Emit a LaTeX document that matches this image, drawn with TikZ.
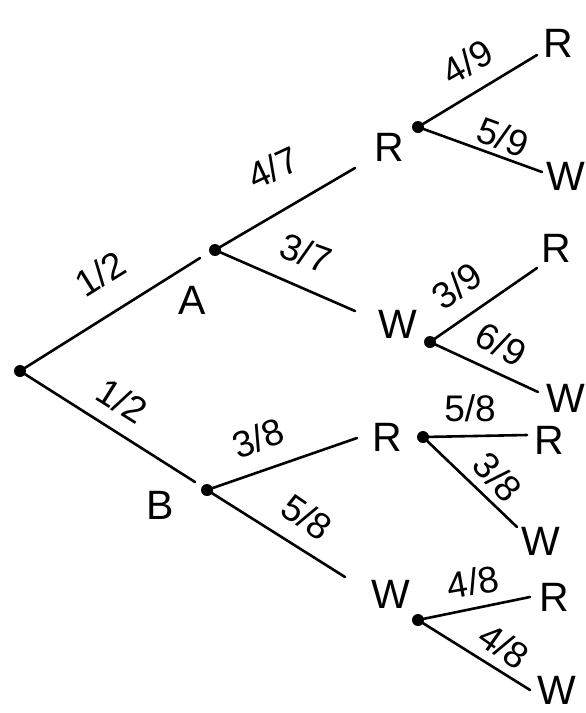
\documentclass[tikz,border=0pt]{standalone}
\usepackage{fontspec}
\setmainfont{Liberation Sans}
\begin{document}
\begin{tikzpicture}[x=1pt,y=-1pt,
  branch/.style={line width=2.6pt,line cap=round},
  dotnode/.style={circle,fill=black,inner sep=0pt,minimum size=12pt},
  letter/.style={inner sep=0pt,font=\fontsize{41}{43}\selectfont},
  frac/.style={inner sep=0pt,font=\fontsize{37}{39}\selectfont}]
\useasboundingbox (0,0) rectangle (586,713);
% dots
\node[dotnode] (O) at (20,371) {};
\node[dotnode] (A) at (215,250) {};
\node[dotnode] (B) at (207,490) {};
\node[dotnode] (R1d) at (418,127) {};
\node[dotnode] (W1d) at (430,342) {};
\node[dotnode] (R2d) at (423,437) {};
\node[dotnode] (W2d) at (418,620) {};
% free line ends
\coordinate (eOA) at (200,258);
\coordinate (eOB) at (195,482);
\coordinate (eAR) at (355,168);
\coordinate (eAW) at (355,311);
\coordinate (eBR) at (357,438);
\coordinate (eBW) at (345,577);
\coordinate (e1R) at (537,55);
\coordinate (e1W) at (542,172);
\coordinate (e2R) at (537,268);
\coordinate (e2W) at (538,392);
\coordinate (e3R) at (527,435);
\coordinate (e3W) at (517,527);
\coordinate (e4R) at (530,597);
\coordinate (e4W) at (530,690);
% branches
\draw[branch] (O.center) -- (eOA);
\draw[branch] (O.center) -- (eOB);
\draw[branch] (A.center) -- (eAR);
\draw[branch] (A.center) -- (eAW);
\draw[branch] (B.center) -- (eBR);
\draw[branch] (B.center) -- (eBW);
\draw[branch] (R1d.center) -- (e1R);
\draw[branch] (R1d.center) -- (e1W);
\draw[branch] (W1d.center) -- (e2R);
\draw[branch] (W1d.center) -- (e2W);
\draw[branch] (R2d.center) -- (e3R);
\draw[branch] (R2d.center) -- (e3W);
\draw[branch] (W2d.center) -- (e4R);
\draw[branch] (W2d.center) -- (e4W);
% letters
\node[letter] (lA) at (192,300) {A};
\node[letter] (lB) at (160,505) {B};
\node[letter] (lR1) at (389,147) {R};
\node[letter] (lW1) at (398,324) {W};
\node[letter] (lR2) at (387,437) {R};
\node[letter] (lW2) at (391,594) {W};
\node[letter] (lRR) at (558,43) {R};
\node[letter] (lRW) at (566,176) {W};
\node[letter] (lWR) at (556,248) {R};
\node[letter] (lWW) at (566,398) {W};
\node[letter] (lR2R) at (549,440) {R};
\node[letter] (lR2W) at (541,541) {W};
\node[letter] (lW2R) at (554,597) {R};
\node[letter] (lW2W) at (557,690) {W};
% fractions
\node[frac,rotate=32] (fOA) at (100,274) {1/2};
\node[frac,rotate=-32] (fOB) at (122,401) {1/2};
\node[frac,rotate=25] (fAR) at (273,168) {4/7};
\node[frac,rotate=-20] (fAW) at (306,253) {3/7};
\node[frac,rotate=20] (fBR) at (258,438) {3/8};
\node[frac,rotate=-35] (fBW) at (307,517) {5/8};
\node[frac,rotate=30] (f1R) at (467,62) {4/9};
\node[frac,rotate=-20] (f1W) at (503,137) {5/9};
\node[frac,rotate=35] (f2R) at (457,286) {3/9};
\node[frac,rotate=-28] (f2W) at (501,344) {6/9};
\node[frac] (f3R) at (470,408) {5/8};
\node[frac,rotate=-48] (f3W) at (498,477) {3/8};
\node[frac,rotate=10] (f4R) at (473,582) {4/8};
\node[frac,rotate=-35] (f4W) at (504,646) {4/8};
\end{tikzpicture}
\end{document}
